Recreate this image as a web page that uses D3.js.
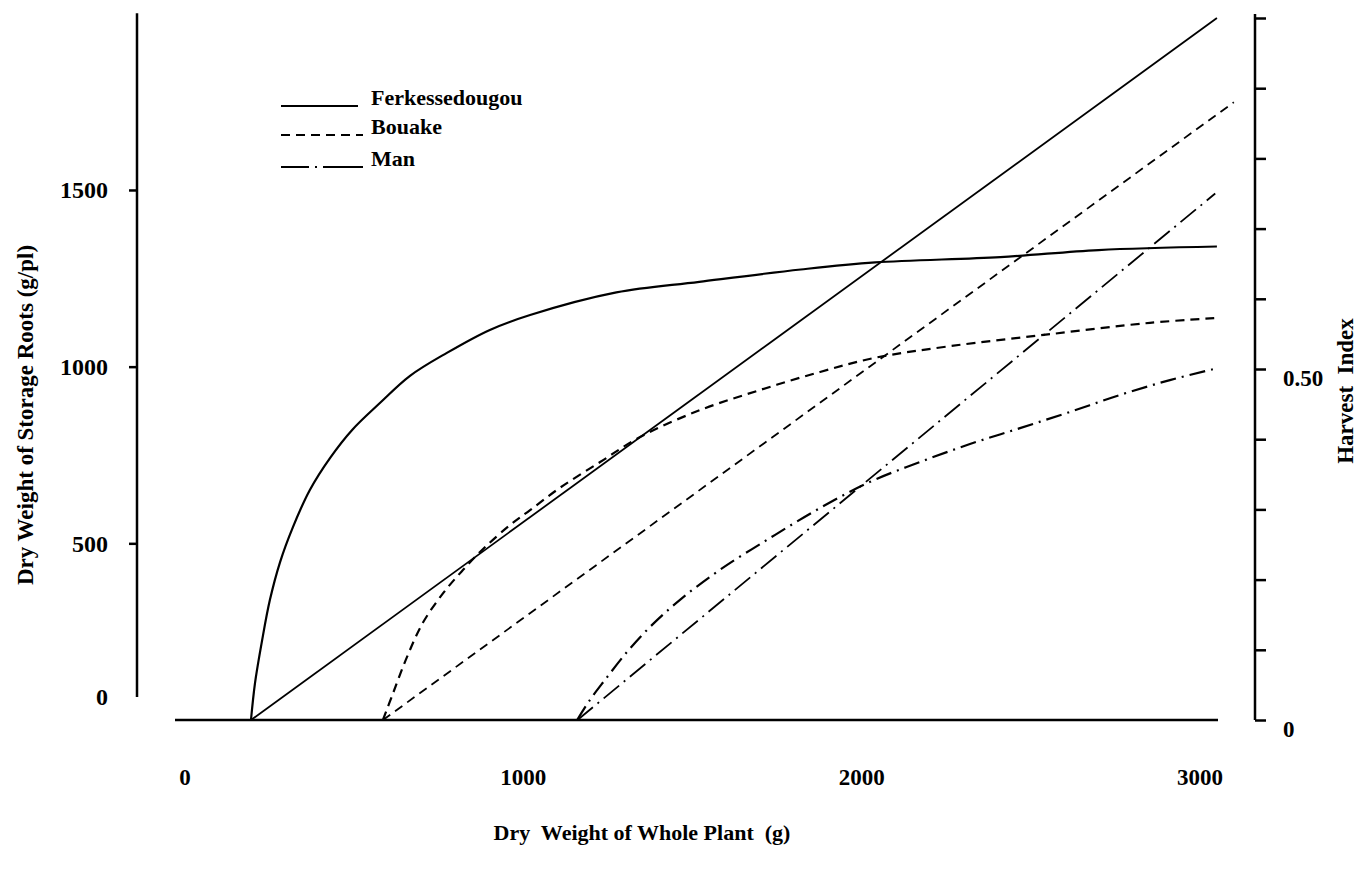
<!DOCTYPE html>
<html>
<head>
<meta charset="utf-8">
<script src="https://cdn.jsdelivr.net/npm/d3@7"></script>
<style>
  body { margin: 0; background: #fff; }
  svg { display: block; }
  text { font-family: "Liberation Serif", "Times New Roman", serif; font-weight: bold; fill: #000; }
</style>
</head>
<body>
<div id="chart"></div>
<script>
// x ticks (dry weight of whole plant, g)
const xTicks = [0, 1000, 2000, 3000];
// left axis ticks (dry weight of storage roots, g/pl)
const rootTicks = [500, 1000, 1500];
const rootLabels = [0, 500, 1000, 1500];
// right axis ticks (harvest index)
const hiTicks = [0, 0.1, 0.2, 0.3, 0.4, 0.5, 0.6, 0.7, 0.8, 0.9, 1.0];
const hiLabels = [[0, "0"], [0.5, "0.50"]];

// storage root curves  [whole plant g, storage roots g/pl]
const ferkRoots = [[195,0],[207,105],[228,226],[251,340],[281,447],[319,546],[369,651],[429,742],
  [494,821],[576,897],[665,974],[774,1039],[901,1104],[1020,1146],[1275,1210],[1520,1240],
  [1820,1275],[2040,1295],[2410,1310],[2700,1330],[3050,1340]];
const bouakeRoots = [[585,0],[615,76],[656,178],[703,275],[763,359],[822,425],[881,484],[961,552],
  [1020,594],[1108,657],[1227,730],[1345,801],[1522,877],[1700,934],[1877,985],[2039,1025],
  [2261,1058],[2557,1092],[2852,1124],[3053,1138]];
const manRoots = [[1159,0],[1197,57],[1241,113],[1306,192],[1374,263],[1463,340],[1581,425],
  [1729,515],[1877,600],[2025,674],[2172,730],[2320,781],[2468,826],[2616,872],[2764,920],
  [2911,962],[3053,996]];

// harvest index lines  [whole plant g, harvest index]
const ferkHI = [[195,0],[3050,1.0]];
const bouakeHI = [[585,0],[3100,0.88]];
const manHI = [[1160,0],[3045,0.75]];

const sites = ["Ferkessedougou", "Bouake", "Man"];
const dashes = ["none", "9,6", "16,6,2,6"];

const W = 1358, H = 875;
const svg = d3.select("#chart").append("svg").attr("width", W).attr("height", H);

const x = d3.scaleLinear().domain([0, 3000]).range([185, 1200]);
const yRoots = d3.scaleLinear().domain([0, 2000]).range([720, 13.3]);
const yHI = d3.scaleLinear().domain([0, 1]).range([720, 18]);

// baseline
svg.append("line")
  .attr("x1", 175).attr("x2", 1218)
  .attr("y1", yRoots(0)).attr("y2", yRoots(0))
  .attr("stroke", "#000").attr("stroke-width", 2.5);

// left axis
const leftAxis = svg.append("g")
  .attr("transform", "translate(137,0)")
  .call(d3.axisLeft(yRoots).tickValues(rootTicks).tickSize(8).tickFormat(""));
leftAxis.select(".domain").remove();
leftAxis.selectAll("line").attr("stroke", "#000").attr("stroke-width", 2.5);
leftAxis.append("line")
  .attr("y1", yRoots(2000)).attr("y2", 697)
  .attr("stroke", "#000").attr("stroke-width", 2.5);

svg.selectAll(".rootLabel")
  .data(rootLabels)
  .enter().append("text")
  .attr("class", "rootLabel")
  .attr("x", 108)
  .attr("y", d => Math.min(yRoots(d), 697))
  .attr("dy", "0.35em")
  .attr("text-anchor", "end")
  .style("font-size", "24px")
  .text(d => d);

// right axis
const rightAxis = svg.append("g")
  .attr("transform", "translate(1255,0)")
  .call(d3.axisRight(yHI).tickValues(hiTicks).tickSize(11).tickSizeOuter(0).tickFormat(""));
rightAxis.select(".domain").attr("stroke", "#000").attr("stroke-width", 2.5)
  .attr("d", "M0," + (yHI(1) - 4) + "V" + yHI(0));
rightAxis.selectAll("line").attr("stroke", "#000").attr("stroke-width", 2.5);

svg.selectAll(".hiLabel")
  .data(hiLabels)
  .enter().append("text")
  .attr("class", "hiLabel")
  .attr("x", 1283)
  .attr("y", d => yHI(d[0]) + 9)
  .attr("dy", "0.35em")
  .style("font-size", "23px")
  .text(d => d[1]);

// x tick labels
svg.selectAll(".xLabel")
  .data(xTicks)
  .enter().append("text")
  .attr("class", "xLabel")
  .attr("x", d => x(d))
  .attr("y", 785)
  .attr("text-anchor", "middle")
  .style("font-size", "23px")
  .text(d => d);

// axis titles
svg.append("text")
  .attr("x", 642).attr("y", 840)
  .attr("text-anchor", "middle")
  .style("font-size", "22px")
  .attr("xml:space", "preserve")
  .text("Dry  Weight of Whole Plant  (g)");

svg.append("text")
  .attr("transform", "translate(33,415) rotate(-90)")
  .attr("text-anchor", "middle")
  .style("font-size", "23px")
  .text("Dry Weight of Storage Roots (g/pl)");

svg.append("text")
  .attr("transform", "translate(1353,391) rotate(-90)")
  .attr("text-anchor", "middle")
  .style("font-size", "23px")
  .attr("xml:space", "preserve")
  .text("Harvest  Index");

// curves
const rootLine = d3.line().x(d => x(d[0])).y(d => yRoots(d[1])).curve(d3.curveCatmullRom.alpha(0.5));
const hiLine = d3.line().x(d => x(d[0])).y(d => yHI(d[1]));

[ferkRoots, bouakeRoots, manRoots].forEach((s, i) => {
  svg.append("path")
    .datum(s)
    .attr("d", rootLine)
    .attr("fill", "none")
    .attr("stroke", "#000")
    .attr("stroke-width", 2.2)
    .attr("stroke-dasharray", dashes[i]);
});

[ferkHI, bouakeHI, manHI].forEach((s, i) => {
  svg.append("path")
    .datum(s)
    .attr("d", hiLine)
    .attr("fill", "none")
    .attr("stroke", "#000")
    .attr("stroke-width", 1.8)
    .attr("stroke-dasharray", i == 2 ? "20,6,2,6" : dashes[i]);
});

// legend
const legend = svg.append("g").attr("transform", "translate(281,0)");
const legendY = [106, 135, 167];
sites.forEach((name, i) => {
  legend.append("line")
    .attr("x1", 0).attr("x2", i == 0 ? 77 : 82)
    .attr("y1", legendY[i]).attr("y2", legendY[i])
    .attr("stroke", "#000").attr("stroke-width", 2)
    .attr("stroke-dasharray", i == 2 ? "28,6,2,6,40" : dashes[i]);
  legend.append("text")
    .attr("x", 90).attr("y", legendY[i] - 1)
    .style("font-size", "22px")
    .text(name);
});
</script>
</body>
</html>
